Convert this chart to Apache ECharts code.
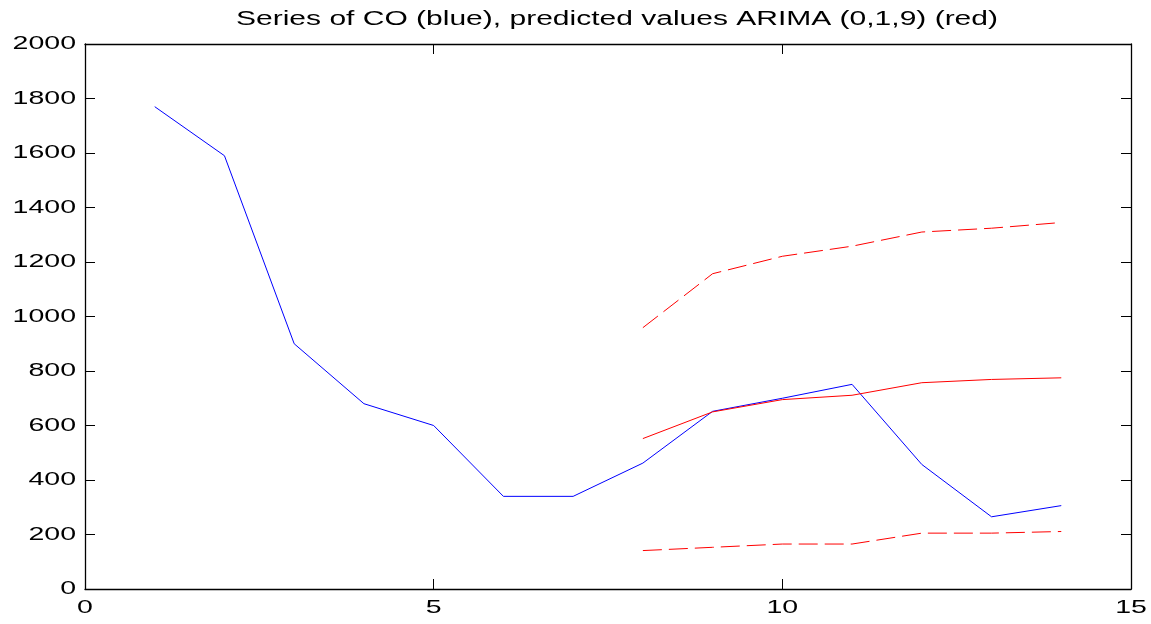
<!DOCTYPE html>
<html>
<head>
<meta charset="utf-8">
<script src="https://cdn.jsdelivr.net/npm/echarts@6/dist/echarts.min.js"></script>
<style>
html,body{margin:0;padding:0;background:#fff;}
#chart{width:1151px;height:624px;}
</style>
</head>
<body>
<div id="chart"></div>
<script>
// observed CO series (blue)
var coX=[1,2,3,4,5,6,7,8,9,10,11,12,13,14];
var coY=[1770,1590,900,680,600,340,340,462,652,700,751,457,265,306];
// ARIMA(0,1,9) forecast and bounds (red)
var predX=[8,9,10,11,12,13,14];
var predY=[552,650,695,711,757,769,775];
var upperY=[959,1157,1221,1258,1310,1324,1345];
var lowerY=[141,153,165,165,205,205,211];
// tick labels
var xTicks=[0,5,10,15];
var yTicks=[0,200,400,600,800,1000,1200,1400,1600,1800,2000];
var titleText="Series of CO (blue), predicted values ARIMA (0,1,9) (red)";

function pairs(xs,ys){
    var out=[];
    for(var i=0;i<xs.length;i++){out.push([xs[i],ys[i]]);}
    return out;
}

var font="Liberation Sans, Arial, sans-serif";
var stretch=1.5; // the source image text is wide
var tick={show:true,inside:true,length:10,lineStyle:{color:"#000",width:1}};
var line={show:true,onZero:false,lineStyle:{color:"#000",width:1.3}};

var chart=echarts.init(document.getElementById("chart"));
chart.setOption({
    animation:false,
    backgroundColor:"#fff",
    grid:{left:85,right:20,top:44,bottom:35},
    xAxis:[
        {type:"value",min:0,max:15,interval:5,position:"bottom",
         axisLine:line,axisTick:tick,splitLine:{show:false},axisLabel:{show:false}},
        {type:"value",min:0,max:15,interval:5,position:"top",
         axisLine:line,axisTick:tick,splitLine:{show:false},axisLabel:{show:false}}
    ],
    yAxis:[
        {type:"value",min:0,max:2000,interval:200,position:"left",
         axisLine:line,axisTick:tick,splitLine:{show:false},axisLabel:{show:false}},
        {type:"value",min:0,max:2000,interval:200,position:"right",
         axisLine:line,axisTick:tick,splitLine:{show:false},axisLabel:{show:false}}
    ],
    series:[
        {type:"line",data:pairs(coX,coY),showSymbol:false,symbol:"none",
         lineStyle:{color:"#0000ff",width:1}},
        {type:"line",data:pairs(predX,predY),showSymbol:false,symbol:"none",
         lineStyle:{color:"#ff0000",width:1}},
        {type:"line",data:pairs(predX,upperY),showSymbol:false,symbol:"none",
         lineStyle:{color:"#ff0000",width:1,type:[19,7]}},
        {type:"line",data:pairs(predX,lowerY),showSymbol:false,symbol:"none",
         lineStyle:{color:"#ff0000",width:1,type:[19,7]}}
    ]
});

// labels as stretched text, placed through the axes' own scales
var labels=[];
labels.push({type:"text",x:617,y:19,scaleX:stretch,silent:true,
    style:{text:titleText,font:"20px "+font,fill:"#000",align:"center",verticalAlign:"middle"}});
yTicks.forEach(function(v){
    labels.push({type:"text",x:76,y:chart.convertToPixel({yAxisIndex:0},v),scaleX:stretch,silent:true,
        style:{text:String(v),font:"19px "+font,fill:"#000",align:"right",verticalAlign:"middle"}});
});
xTicks.forEach(function(v){
    labels.push({type:"text",x:chart.convertToPixel({xAxisIndex:0},v),y:608,scaleX:stretch,silent:true,
        style:{text:String(v),font:"19px "+font,fill:"#000",align:"center",verticalAlign:"middle"}});
});
chart.setOption({graphic:labels});
</script>
</body>
</html>
